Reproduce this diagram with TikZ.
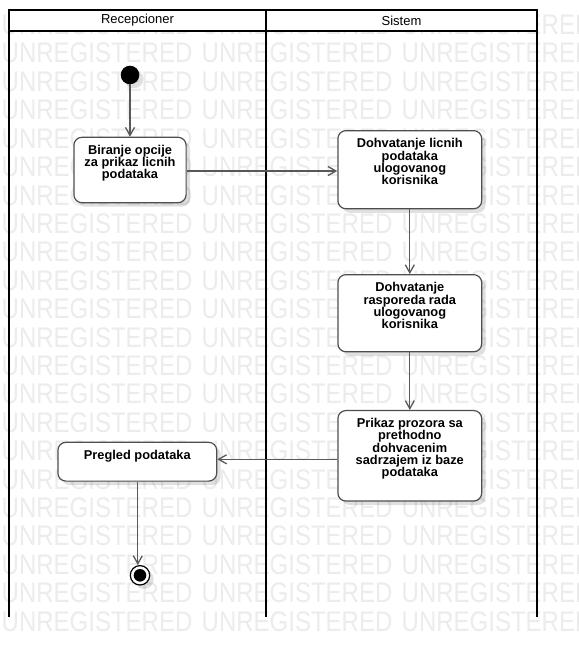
\documentclass[tikz,border=0pt]{standalone}
\usepackage{fontspec}
\usepackage{graphicx}
\setmainfont{Liberation Sans}
\usetikzlibrary{arrows.meta,shadows}
\definecolor{wm}{RGB}{236,236,236}
\definecolor{edgegray}{RGB}{78,78,78}
\definecolor{conn}{RGB}{88,88,88}
\begin{document}
\begin{tikzpicture}[x=1pt,y=-1pt,
  lane/.style={line width=2pt, draw=black},
  softshadow/.style={drop shadow={shadow xshift=4pt, shadow yshift=-4pt, opacity=0.12, fill=black}},
  action/.style={draw=edgegray, line width=1.2pt, fill=white, rounded corners=8pt, softshadow, inner sep=0pt},
  acttext/.style={font=\fontsize{12.8}{12.3}\selectfont\bfseries, align=center, inner sep=0pt, anchor=north},
  flow/.style={draw=conn, line width=1.3pt, -{Straight Barb[length=8pt,width=9pt]}},
  wmtext/.style={text=wm, font=\fontsize{24}{24}\selectfont, inner sep=0pt, anchor=base west},
  hdr/.style={font=\fontsize{13}{13}\selectfont, inner sep=0pt}
]
\useasboundingbox (0,0) rectangle (578,658);
\clip (0,0) rectangle (578,658);
\fill[white] (0,0) rectangle (578,658);

% watermark
\foreach \k in {0,...,21} {
  \foreach \j in {0,1,2} {
    \node[wmtext] (wm-\k-\j) at ({1.5+200*\j}, {34.6+28.4*\k}) {\scalebox{1}[1.18]{UNREGISTERED}};
  }
}

% swimlanes
\fill[white] (9,10) rectangle (537,31);
\draw[lane] (9,617) -- (9,10) -- (537,10) -- (537,617);
\draw[lane] (9,31) -- (537,31);
\draw[lane] (266,10) -- (266,617);
\node[hdr] (h1) at (137.5,20.5) {Recepcioner};
\node[hdr] (h2) at (401.5,20.5) {Sistem};

% nodes
\node[circle, fill=black, minimum size=18.6pt, inner sep=0pt, softshadow] (init) at (130,75) {};

\node[action, minimum width=112.2pt, minimum height=65.4pt] (A) at (130,170) {};
\node[acttext] (At) at ([yshift=-8.2pt]A.north) {Biranje opcije\\za prikaz licnih\\podataka};

\node[action, minimum width=143.8pt, minimum height=78.1pt] (B) at (409.8,169.7) {};
\node[acttext] (Bt) at ([yshift=-8.2pt]B.north) {Dohvatanje licnih\\podataka\\ulogovanog\\korisnika};

\node[action, minimum width=143.8pt, minimum height=77.1pt] (C) at (409.8,313.2) {};
\node[acttext] (Ct) at ([yshift=-8.2pt]C.north) {Dohvatanje\\rasporeda rada\\ulogovanog\\korisnika};

\node[action, minimum width=143.8pt, minimum height=90.5pt] (D) at (409.8,455.8) {};
\node[acttext] (Dt) at ([yshift=-8.2pt]D.north) {Prikaz prozora sa\\prethodno\\dohvacenim\\sadrzajem iz baze\\podataka};

\node[action, minimum width=158.8pt, minimum height=38.8pt] (E) at (137.3,461.7) {};
\node[acttext] (Et) at ([yshift=-8.2pt]E.north) {Pregled podataka};

\node[circle, draw=black, line width=1.2pt, fill=white, minimum size=19.4pt, inner sep=0pt, softshadow] (fin) at (140,575.3) {};
\node[circle, fill=black, minimum size=12.6pt, inner sep=0pt] (finin) at (fin.center) {};

% connectors
\draw[flow] (init) -- (A);
\draw[flow] ([yshift=-1pt]A.east) -- ([yshift=-1pt]A.east -| B.west);
\draw[flow] (B) -- (C);
\draw[flow] (C) -- (D);
\draw[flow] ([yshift=2.4pt]E.east -| D.west) -- ([yshift=2.4pt]E.east);
\draw[flow] ([xshift=0.5pt]E.south) -- ([xshift=0.5pt]E.south |- fin.north);
\end{tikzpicture}
\end{document}
